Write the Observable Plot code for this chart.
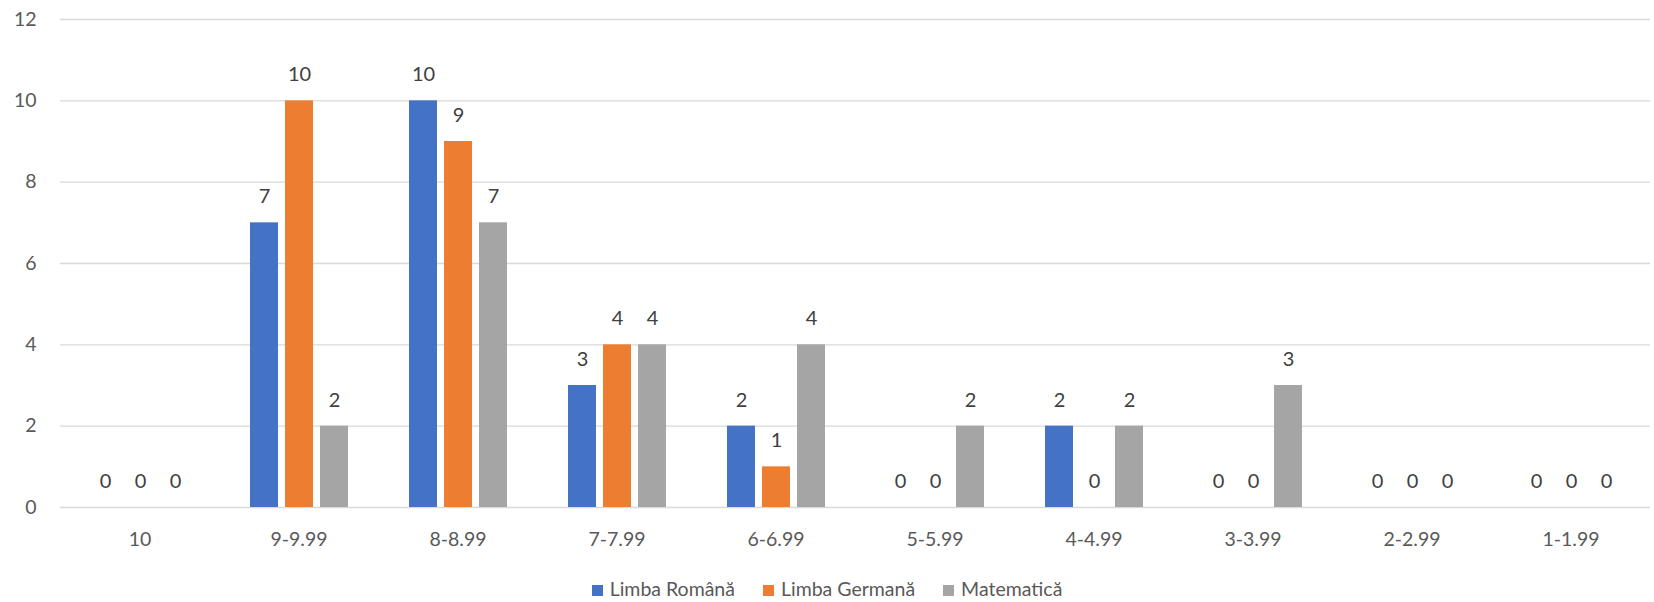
<!DOCTYPE html>
<html>
<head>
<meta charset="utf-8">
<script src="https://cdn.jsdelivr.net/npm/d3@7"></script>
<script src="https://cdn.jsdelivr.net/npm/@observablehq/plot@0.6"></script>
<style>
  body { margin: 0; background: #fff; font-family: Lato, "Open Sans", sans-serif; }
  #legend { display: flex; justify-content: center; gap: 28px; font-size: 19.5px; color: #595959; margin-top: 25px; padding-left: 0px; }
  #legend span.sw { display: inline-block; width: 11px; height: 11px; margin-right: 7px; vertical-align: 0px; }
</style>
</head>
<body>
<div id="chart"></div>
<div id="legend"></div>
<script>
const categories = ["10", "9-9.99", "8-8.99", "7-7.99", "6-6.99", "5-5.99", "4-4.99", "3-3.99", "2-2.99", "1-1.99"];
const seriesNames = ["Limba Română", "Limba Germană", "Matematică"];
const seriesColors = ["#4472C4", "#ED7D31", "#A5A5A5"];
const limbaRomana = [0, 7, 10, 3, 2, 0, 2, 0, 0, 0];
const limbaGermana = [0, 10, 9, 4, 1, 0, 0, 0, 0, 0];
const matematica = [0, 2, 7, 4, 4, 2, 2, 3, 0, 0];
const yTicks = [0, 2, 4, 6, 8, 10, 12];

const seriesValues = [limbaRomana, limbaGermana, matematica];
const data = [];
categories.forEach((c, i) => {
  seriesNames.forEach((s, j) => data.push({cat: c, series: s, value: seriesValues[j][i]}));
});

const chart = Plot.plot({
  width: 1654,
  height: 552,
  marginTop: 19,
  marginLeft: 59,
  marginRight: 4,
  marginBottom: 45,
  style: {fontFamily: "Lato, 'Open Sans', sans-serif", fontSize: "19.5px", color: "#595959", background: "#fff"},
  fx: {domain: categories, padding: 0, axis: "bottom", label: null, tickSize: 0, tickPadding: 25},
  x: {domain: seriesNames, axis: null, paddingInner: 0.2, paddingOuter: 0.84},
  y: {domain: [0, 12], ticks: yTicks, label: null, tickSize: 0, tickPadding: 24},
  color: {domain: seriesNames, range: seriesColors},
  marks: [
    Plot.gridY(yTicks, {stroke: "#d9d9d9", strokeOpacity: 1, strokeWidth: 1.3}),
    Plot.barY(data, {fx: "cat", x: "series", y: "value", fill: "series"}),
    Plot.text(data, {fx: "cat", x: "series", y: "value", text: d => String(d.value), dy: -26, fill: "#404040", fontSize: 20})
  ]
});
document.getElementById("chart").appendChild(chart);

const legend = document.getElementById("legend");
seriesNames.forEach((s, i) => {
  const item = document.createElement("div");
  item.innerHTML = `<span class="sw" style="background:${seriesColors[i]}"></span>${s}`;
  legend.appendChild(item);
});
</script>
</body>
</html>
